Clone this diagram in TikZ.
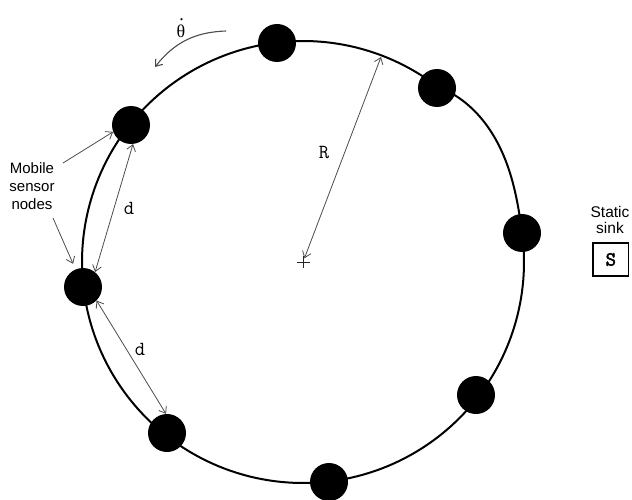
\documentclass[tikz,border=0pt]{standalone}
\usepackage{fontspec}
\setmainfont{Liberation Sans}
\newfontfamily\seriff{Liberation Serif}
\newfontfamily\ttbold{Latin Modern Mono}[FakeBold=2.5]
\usetikzlibrary{arrows.meta}
\begin{document}
\begin{tikzpicture}[x=1pt,y=-1pt,
  declare function={ff(\a)=min(1,(\a+52.4)/44.9); rr(\a)=221+54*ff(\a)*(1-ff(\a))*(1-ff(\a));},
  sensor/.style={circle,fill=black,minimum size=38pt,inner sep=0pt},
  ring/.style={line width=2pt},
  dim/.style={draw=black!70,line width=0.8pt,{Straight Barb[length=6pt,width=9pt]}-{Straight Barb[length=6pt,width=9pt]}},
  ptr/.style={draw=black!70,line width=0.8pt,-{Straight Barb[length=6pt,width=9pt]}},
  lbl/.style={font=\ttfamily\fontsize{20}{22}\selectfont,text=black,inner sep=0pt},
  txt/.style={align=center,inner sep=0pt,text=black}
]
\useasboundingbox (0,0) rectangle (632,500);
% ring (circle about the centre, slightly bulging between the two upper-right nodes)
\draw[ring] plot[domain=-52.4:307.6, samples=361] ({303+rr(\x)*cos(\x)},{262+rr(\x)*sin(\x)}) -- cycle;
% sensor nodes
\node[sensor] (n1) at (277,43) {};
\node[sensor] (n2) at (437,88) {};
\node[sensor] (n3) at (522,233) {};
\node[sensor] (n4) at (476,395) {};
\node[sensor] (n5) at (329,482) {};
\node[sensor] (n6) at (167,433) {};
\node[sensor] (n7) at (83,287) {};
\node[sensor] (n8) at (131,125) {};
% centre and radius
\coordinate (ctr) at (303,262);
\coordinate (rtop) at (381,57);
\draw[black!85,line width=0.9pt] (ctr) ++(-6.5,0) -- ++(13,0) (ctr) ++(0,-6) -- ++(0,12);
\draw[dim,shorten <=4pt] (ctr) -- (rtop);
\node[lbl] (rl) at (324,153) {R};
% distance arrows
\draw[dim] (n8.-84) -- (n7.51);
\draw[dim] (n7.-45) -- (n6.93);
\node[lbl] (d1) at (129,208) {d};
\node[lbl] (d2) at (140,349) {d};
% rotation
\coordinate (th1) at (226,31);
\coordinate (th2) at (155,67);
\draw[ptr,line width=1.1pt] (th1) to[bend right=25] (th2);
\node[inner sep=0pt,text=black] (thl) at (181,28) {\seriff\fontsize{18}{20}\selectfont\makebox[0pt][l]{\hspace{0.15em}\raisebox{0.95em}{.}}θ};
% mobile sensor label
\node[txt,font=\fontsize{15}{18}\selectfont] (mob) at (32,186) {Mobile\\sensor\\nodes};
\coordinate (m1) at (63,163);
\coordinate (m2) at (53,218);
\draw[ptr] (m1) -- (n8.201);
\draw[ptr,shorten >=6pt] (m2) -- (n7.113);
% static sink
\node[txt,font=\fontsize{15.5}{16}\selectfont] (sinkl) at (610,219.5) {Static\\sink};
\node[draw,line width=1.5pt,minimum width=35.5pt,minimum height=33pt,inner sep=0pt,font=\ttbold\fontsize{20}{22}\selectfont] (sink) at (610.8,259.5) {S};
\end{tikzpicture}
\end{document}
